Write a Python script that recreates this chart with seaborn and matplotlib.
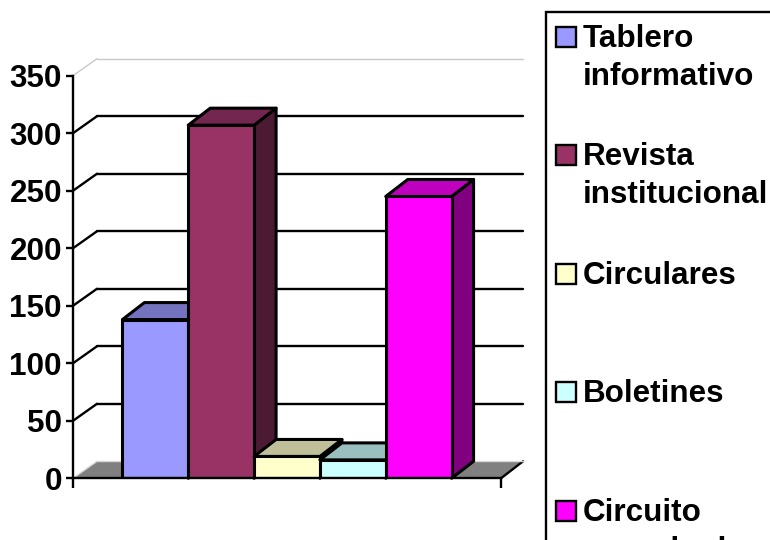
import matplotlib
matplotlib.use("Agg")
import matplotlib.pyplot as plt
import matplotlib.patches as mp
from matplotlib.transforms import IdentityTransform
import pandas as pd
import seaborn as sns

medios = ["Tablero informativo", "Revista institucional", "Circulares", "Boletines", "Circuito cerrado de"]
valores = [138, 307, 19, 16, 245]
lineas = [["Tablero", "informativo"], ["Revista", "institucional"], ["Circulares"], ["Boletines"], ["Circuito", "cerrado de"]]
colores = ["#9999FF", "#993366", "#FFFFCC", "#CCFFFF", "#FF00FF"]
techos = ["#7373BF", "#732650", "#BFBF99", "#99BFBF", "#BF00BF"]
lados = ["#4D4D80", "#4D1A33", "#808066", "#668080", "#800080"]
marcas_y = [0, 50, 100, 150, 200, 250, 300, 350]

sns.set_style("white")
plt.rcParams["font.family"] = ["Liberation Sans", "DejaVu Sans"]
plt.rcParams["font.weight"] = "bold"
plt.rcParams["text.color"] = "black"

W, H = 770, 540
fig = plt.figure(figsize=(W / 100, H / 100), dpi=100)
ax = fig.add_axes([73 / W, 1 - 478.3 / H, (501 - 73) / W, (478.3 - 75.7) / H])

df = pd.DataFrame({"grupo": [""] * len(medios), "medio": medios, "valor": valores})
sns.barplot(data=df, x="grupo", y="valor", hue="medio", hue_order=medios, palette=colores, saturation=1,
            width=0.769, gap=0, edgecolor="black", linewidth=2.2, legend=False, ax=ax, zorder=5)
ax.set_xlim(-0.5, 0.5)
ax.set_ylim(0, 350)
ax.patch.set_alpha(0)
ax.set_xlabel("")
ax.set_ylabel("")
ax.set_yticks(marcas_y)
ax.set_xticks([-0.5, 0.5])
ax.set_xticklabels(["", ""])
ax.tick_params(axis="y", length=5, width=1.7, labelsize=22.6, pad=3, left=True, color="black", labelcolor="black")
ax.tick_params(axis="x", length=7, width=1.7, bottom=True, color="black")
for s in ["top", "right"]:
    ax.spines[s].set_visible(False)
for s in ["left", "bottom"]:
    ax.spines[s].set_color("black")
    ax.spines[s].set_linewidth(1.7)
    ax.spines[s].set_zorder(20)


def px(x, y):
    return ax.transData.transform((x, y))


def cara(puntos, color, z, lw=2.2):
    ax.add_patch(mp.Polygon(puntos, closed=True, facecolor=color, edgecolor="black", linewidth=lw, joinstyle="round",
                            transform=IdentityTransform(), zorder=z, clip_on=False))


def linea(xs, ys, col, lw):
    ax.plot(xs, ys, color=col, lw=lw, transform=IdentityTransform(), zorder=2, clip_on=False)


# pared y piso del grafico 3d
dx, dy = 24, 17
x0, _ = px(-0.5, 0)
x1, _ = px(0.5, 0)
_, y0 = px(0, 0)
ax.add_patch(mp.Polygon([(x0, y0), (x0 + dx, y0 + dy), (x1 + dx - 2, y0 + dy), (x1, y0)], closed=True,
                        facecolor="#808080", edgecolor="none", transform=IdentityTransform(), zorder=1, clip_on=False))
for v in marcas_y:
    _, y = px(0, v)
    if v == 0:
        linea([x0, x0 + dx], [y, y + dy], "#D8D8D8", 1)
        linea([x1, x1 + dx - 2], [y, y + dy], "black", 1.7)
        linea([x0 + dx, x1 + dx - 2], [y + dy, y + dy], "#D8D8D8", 1)
    elif v == 350:
        linea([x0, x0 + dx], [y, y + dy], "#C8C8C8", 1)
        linea([x0 + dx, x1 + dx - 2], [y + dy, y + dy], "#C8C8C8", 1)
    else:
        linea([x0, x0 + dx], [y, y + dy], "black", 1.7)
        linea([x0 + dx, x1 + dx - 2], [y + dy, y + dy], "black", 1.7)

# caras superior y lateral de cada barra
bx, by = 22, 17
for i, bar in enumerate(ax.patches[:len(medios)]):
    bar.set_zorder(5 + i * 2 + 1)
    a, b = bar.get_x(), bar.get_x() + bar.get_width()
    xa, yt = px(a, bar.get_height())
    xb, yb = px(b, 0)
    cara([(xb, yb), (xb + bx, yb + by), (xb + bx, yt + by), (xb, yt)], lados[i], 5 + i * 2)
    cara([(xa, yt), (xa + bx, yt + by), (xb + bx, yt + by), (xb, yt)], techos[i], 5 + i * 2)

# leyenda, se corta en el borde como en el original
fig.add_artist(mp.Rectangle((545.5 / W, 1 - 570 / H), 300 / W, 558 / H, facecolor="white", edgecolor="black",
                            linewidth=1.7, transform=fig.transFigure))
for i, partes in enumerate(lineas):
    base = 47 + i * 118.4
    fig.add_artist(mp.Rectangle((555.5 / W, 1 - base / H), 20 / W, 20 / H, facecolor=colores[i], edgecolor="black",
                                linewidth=1.7, transform=fig.transFigure))
    for j, t in enumerate(partes):
        fig.text(583 / W, 1 - (base + j * 38) / H, t, fontsize=22.6, fontweight="bold", color="black", va="baseline", ha="left")

fig.savefig("out.png", dpi=100)
